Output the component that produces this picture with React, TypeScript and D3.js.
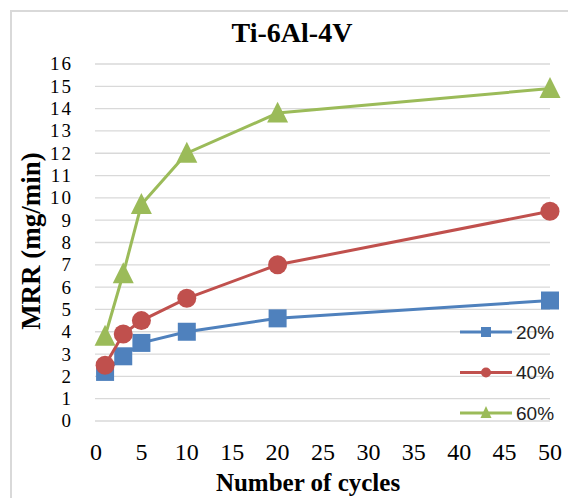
import React from "react";
import * as d3 from "d3";

const WIDTH = 568;
const HEIGHT = 498;
const PLOT = { left: 96, right: 550, top: 64, bottom: 421 };

const cycles = [1, 3, 5, 10, 20, 50];
const mrr20 = [2.2, 2.9, 3.5, 4.0, 4.6, 5.4];
const mrr40 = [2.5, 3.9, 4.5, 5.5, 7.0, 9.4];
const mrr60 = [3.8, 6.6, 9.7, 12.0, 13.8, 14.9];
const seriesNames = ["20%", "40%", "60%"];
const seriesColors = ["#4f81bd", "#c0504d", "#9bbb59"];
const xTicks = d3.range(0, 51, 5);
const yTicks = d3.range(0, 17, 1);

const serif = "'Liberation Serif', 'Times New Roman', serif";

const Marker = ({ kind, x, y, color, size }: { kind: number; x: number; y: number; color: string; size: number }) => {
  if (kind === 0) {
    return <rect x={x - size / 2} y={y - size / 2} width={size} height={size} fill={color} />;
  }
  if (kind === 1) {
    return <circle cx={x} cy={y} r={size / 2} fill={color} />;
  }
  const h = size * 0.9;
  return (
    <path
      d={`M${x},${y - h / 2 - 2} L${x + size / 2},${y + h / 2} L${x - size / 2},${y + h / 2} Z`}
      fill={color}
    />
  );
};

export default function App() {
  const xScale = d3.scaleLinear().domain([0, 50]).range([PLOT.left, PLOT.right]);
  const yScale = d3.scaleLinear().domain([0, 16]).range([PLOT.bottom, PLOT.top]);

  const series = [mrr20, mrr40, mrr60];
  const line = d3
    .line<number>()
    .x((_, i) => xScale(cycles[i]))
    .y((d) => yScale(d));

  const markerSizes = [18, 19, 21];

  return (
    <svg width={WIDTH} height={HEIGHT} style={{ position: "absolute", left: 0, top: 0, background: "#fff" }}>
      <rect x={11} y={11} width={WIDTH} height={HEIGHT} fill="#fff" stroke="#d9d9d9" strokeWidth={2} />

      <text x={292} y={42} textAnchor="middle" fontFamily={serif} fontWeight="bold" fontSize={28} fill="#000">
        Ti-6Al-4V
      </text>

      {/* grid */}
      {yTicks.map((t) => (
        <g key={t}>
          <line
            x1={PLOT.left - 1}
            x2={PLOT.right}
            y1={yScale(t)}
            y2={yScale(t)}
            stroke="#d9d9d9"
            strokeWidth={1.3}
          />
          <text
            x={73}
            y={yScale(t)}
            dy="0.34em"
            textAnchor="end"
            fontFamily={serif}
            fontSize={19}
            letterSpacing={2}
            fill="#000"
          >
            {t}
          </text>
        </g>
      ))}

      {xTicks.map((t) => (
        <text
          key={t}
          x={xScale(t)}
          y={460}
          textAnchor="middle"
          fontFamily={serif}
          fontSize={24}
          fill="#000"
        >
          {t}
        </text>
      ))}

      <text
        transform={`translate(40,241) rotate(-90)`}
        textAnchor="middle"
        fontFamily={serif}
        fontWeight="bold"
        fontSize={27}
        fill="#000"
      >
        MRR (mg/min)
      </text>
      <text x={308} y={491} textAnchor="middle" fontFamily={serif} fontWeight="bold" fontSize={25} fill="#000">
        Number of cycles
      </text>

      {/* series */}
      {series.map((vals, s) => (
        <g key={s}>
          <path d={line(vals) || ""} fill="none" stroke={seriesColors[s]} strokeWidth={3} />
          {vals.map((v, i) => (
            <Marker key={i} kind={s} x={xScale(cycles[i])} y={yScale(v)} color={seriesColors[s]} size={markerSizes[s]} />
          ))}
        </g>
      ))}

      {/* legend */}
      {seriesNames.map((name, s) => {
        const ly = 332 + s * 40.5;
        return (
          <g key={name}>
            <line x1={460} x2={512} y1={ly} y2={ly} stroke={seriesColors[s]} strokeWidth={3} />
            <Marker kind={s} x={486} y={ly} color={seriesColors[s]} size={s === 2 ? 11 : 10} />
            <text
              x={516}
              y={ly}
              dy="0.35em"
              fontFamily="'Liberation Sans', Arial, sans-serif"
              fontSize={19}
              fill="#222"
            >
              {name}
            </text>
          </g>
        );
      })}
    </svg>
  );
}
